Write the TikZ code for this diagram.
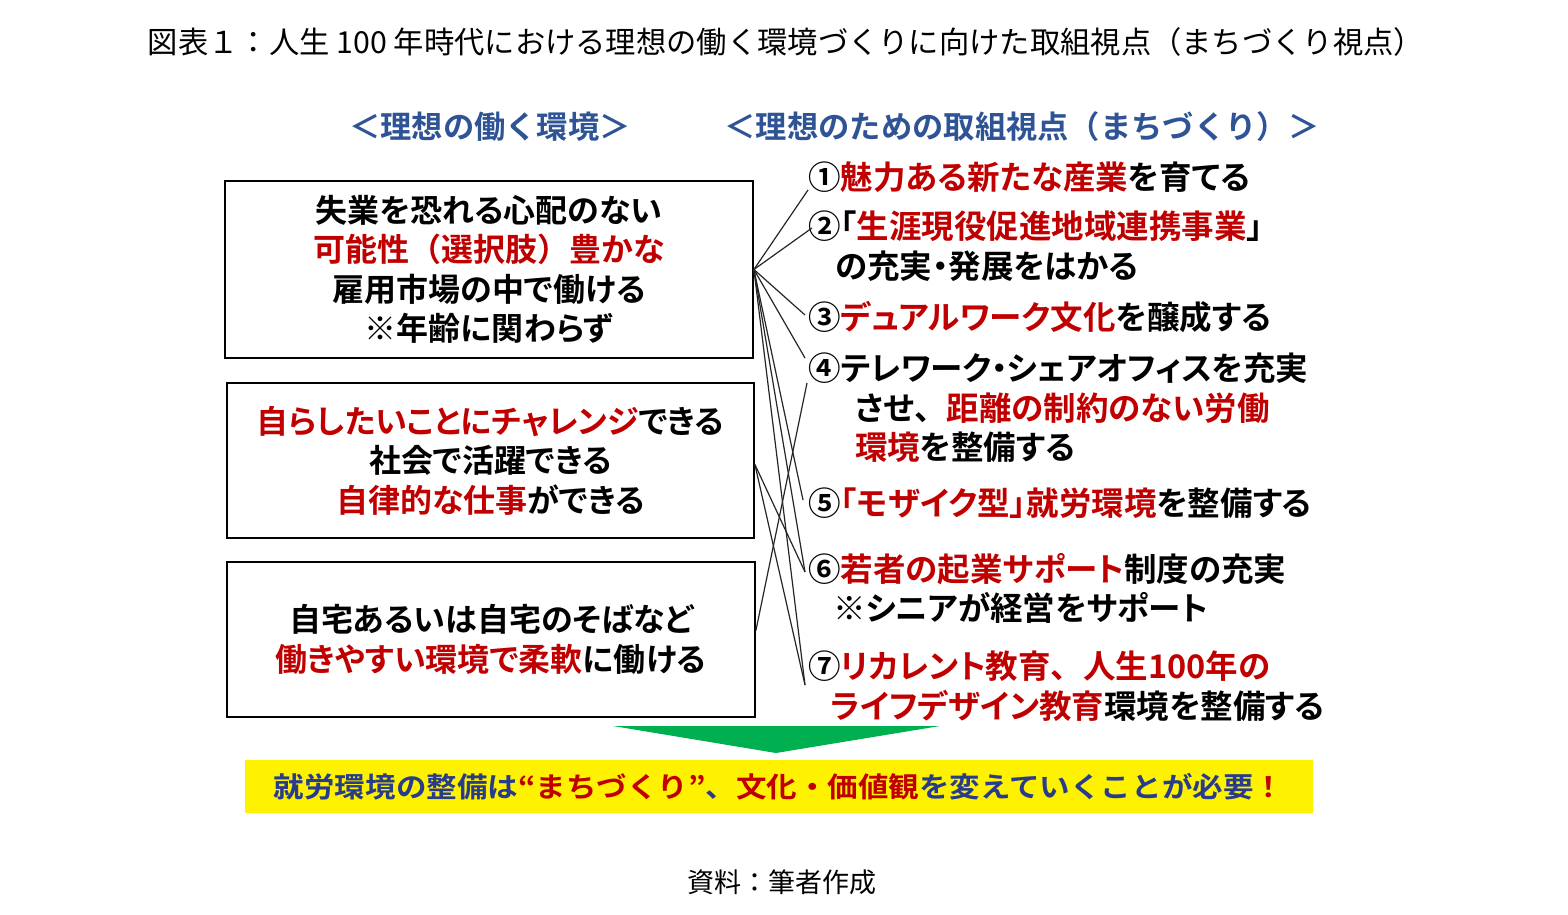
\documentclass[tikz,border=0pt]{standalone}
\usepackage{fontspec}
\newfontfamily\jp[RawFeature=+palt,BoldFont={Noto Sans CJK JP Bold}]{Noto Sans CJK JP}
\newfontfamily\jpf[BoldFont={Noto Sans CJK JP Bold}]{Noto Sans CJK JP}
\newfontfamily\jpt{Noto Sans CJK JP}
\newcommand{\fw}[1]{{\jpf\bfseries #1}}
\definecolor{hblue}{RGB}{47,84,150}
\definecolor{tred}{RGB}{192,0,0}
\definecolor{ynavy}{RGB}{40,60,140}
\definecolor{agreen}{RGB}{0,176,80}
\begin{document}
\begin{tikzpicture}[x=1pt,y=-1pt,
  box/.style={draw=black,line width=1.8pt,inner sep=0pt,align=center,
    font=\jp\bfseries\fontsize{32}{39.5}\selectfont},
  ltxt/.style={font=\jp\bfseries\fontsize{32.5}{40}\selectfont,anchor=west,inner sep=0pt},
  head/.style={font=\jpf\bfseries\fontsize{31.3}{36}\selectfont,text=hblue,inner sep=0pt},
  link/.style={line width=1.2pt,draw=black!85}]
\useasboundingbox (0,0) rectangle (1568,915);
\fill[white] (0,0) rectangle (1568,915);

\node[font=\jpt\fontsize{30.3}{34}\selectfont,inner sep=0pt] (title) at (786,42)
  {図表１：人生 100 年時代における理想の働く環境づくりに向けた取組視点（まちづくり視点）};

\node[head] (h1) at (490,127) {＜理想の働く環境＞};
\node[head] (h2) at (1022,127) {＜理想のための取組視点（まちづくり）＞};

\node[box,minimum width=528pt,minimum height=177pt] (b1) at (489,269.5)
  {失業を恐れる心配のない\\\textcolor{tred}{可能性\fw{（}選択肢\fw{）}豊かな}\\雇用市場の中で働ける\\\fw{※}年齢に関わらず};
\node[box,minimum width=527pt,minimum height=155pt] (b2) at (490.5,460.5)
  {\textcolor{tred}{自らしたいことにチャレンジ}できる\\社会で活躍できる\\\textcolor{tred}{自律的な仕事}ができる};
\node[box,minimum width=528pt,minimum height=155pt] (b3) at (491,639.5)
  {自宅あるいは自宅のそばなど\\\textcolor{tred}{働きやすい環境で柔軟}に働ける};

\node[ltxt] (i1) at (808,177) {①\textcolor{tred}{魅力ある新たな産業}を育てる};
\node[ltxt] (i2) at (808,226) {②「\textcolor{tred}{生涯現役促進地域連携事業}\fw{」}};
\node[ltxt] (i2b) at (835,266) {の充実・発展をはかる};
\node[ltxt] (i3) at (808,317) {③\textcolor{tred}{デュアルワーク文化}を醸成する};
\node[ltxt] (i4) at (808,368) {④テレワーク・シェアオフィスを充実};
\node[ltxt] (i4b) at (855,408) {させ\fw{、}\textcolor{tred}{距離の制約のない労働}};
\node[ltxt] (i4c) at (855,447) {\textcolor{tred}{環境}を整備する};
\node[ltxt] (i5) at (808,503) {⑤\textcolor{tred}{「モザイク型」就労環境}を整備する};
\node[ltxt] (i6) at (808,569) {⑥\textcolor{tred}{若者の起業サポート}制度の充実};
\node[ltxt] (i6b) at (833,608) {\fw{※}シニアが経営をサポート};
\node[ltxt] (i7) at (808,666) {⑦\textcolor{tred}{リカレント教育\fw{、}人生100年の}};
\node[ltxt] (i7b) at (830,706) {\textcolor{tred}{ライフデザイン教育}環境を整備する};

\coordinate (e1) at (808,190);
\coordinate (e2) at (812,228);
\coordinate (e3) at (805,315);
\coordinate (e4a) at (805,358);
\coordinate (e4b) at (807,383);
\coordinate (e5) at (803,500);
\coordinate (e6) at (805,572);
\coordinate (e7) at (805,685);
\coordinate (s2) at ([yshift=-4pt]b2.east);
\coordinate (s3) at ([yshift=9pt]b3.east);

\foreach \e in {e1,e2,e3,e4a,e5,e6,e7} \draw[link] (b1.east) -- (\e);
\draw[link] (s2) -- (e6);
\draw[link] (s2) -- (e7);
\draw[link] (s3) -- (e4b);

\fill[agreen] (613,726) -- (940,726) -- (776,753) -- cycle;

\node[fill=yellow,minimum width=1068pt,minimum height=53pt,inner sep=0pt,
  font=\jpf\bfseries\fontsize{28}{32}\selectfont] (msg) at (779,786.5)
  {\scalebox{1.09}[1]{\textcolor{ynavy}{就労環境の整備は}\textcolor{tred}{“まちづくり”}\textcolor{ynavy}{、}\textcolor{tred}{文化・価値観}\textcolor{ynavy}{を変えていくことが必要}\textcolor{tred}{！}}};

\node[font=\jpt\fontsize{27}{30}\selectfont,inner sep=0pt] (foot) at (782,882) {資料：筆者作成};
\end{tikzpicture}
\end{document}
